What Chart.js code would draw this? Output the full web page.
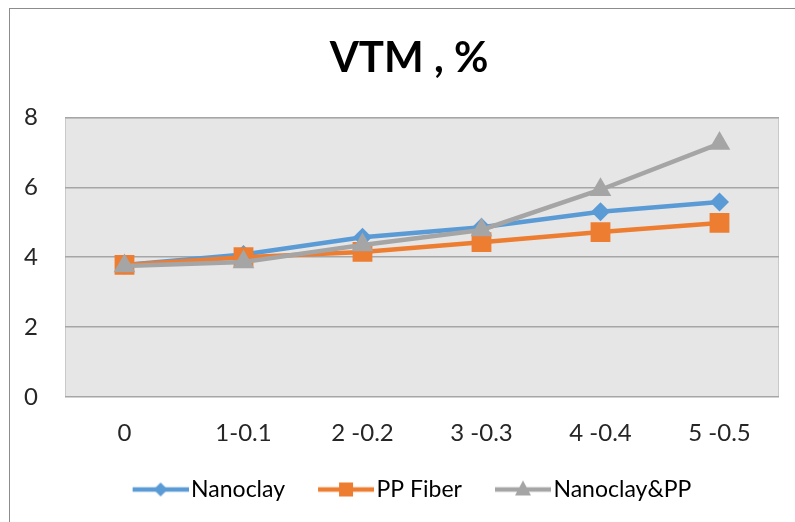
<!DOCTYPE html>
<html>
<head>
<meta charset="utf-8">
<title>VTM , %</title>
<script src="https://cdn.jsdelivr.net/npm/chart.js@4.4.1/dist/chart.umd.min.js"></script>
<style>
  html, body { margin: 0; padding: 0; background: #fff; }
  #wrap { position: relative; width: 795px; height: 522px; overflow: hidden; }
  #frame { position: absolute; left: 9px; top: 8px; width: 800px; height: 530px; border-left: 1px solid #8c8c8c; border-top: 1px solid #8c8c8c; }
  #vtm-chart { position: absolute; left: 0; top: 0; }
</style>
</head>
<body>
<div id="wrap">
  <div id="frame"></div>
  <canvas id="vtm-chart" width="795" height="522"></canvas>
</div>
<script>
// values
const categories = ["0", "1-0.1", "2 -0.2", "3 -0.3", "4 -0.4", "5 -0.5"];
const nanoclay = [3.78, 4.08, 4.57, 4.86, 5.30, 5.58];
const ppFiber = [3.78, 4.00, 4.15, 4.43, 4.72, 4.98];
const nanoclayPP = [3.75, 3.86, 4.35, 4.78, 5.93, 7.25];
const yTicks = [0, 2, 4, 6, 8];

const BLUE = "#5b9bd5";
const ORANGE = "#ed7d31";
const GRAY = "#a5a5a5";
const FONT = "Lato, 'Liberation Sans', sans-serif";

// line + marker picture for the legend, like the Excel one
// (left part of the canvas is empty so the text sits right after the line)
function legendIcon(color, shape) {
    let c = document.createElement("canvas");
    c.width = 88;
    c.height = 24;
    let ctx = c.getContext("2d");
    ctx.strokeStyle = color;
    ctx.fillStyle = color;
    ctx.lineWidth = 4.5;
    ctx.beginPath();
    ctx.moveTo(32, 12);
    ctx.lineTo(88, 12);
    ctx.stroke();
    ctx.beginPath();
    if (shape == "diamond") {
        ctx.moveTo(60, 5); ctx.lineTo(67, 12); ctx.lineTo(60, 19); ctx.lineTo(53, 12);
    } else if (shape == "square") {
        ctx.rect(53, 5, 14, 14);
    } else {
        ctx.moveTo(60, 3); ctx.lineTo(68, 18); ctx.lineTo(52, 18);
    }
    ctx.closePath();
    ctx.fill();
    return c;
}

const icons = [legendIcon(BLUE, "diamond"), legendIcon(ORANGE, "square"), legendIcon(GRAY, "triangle")];

// grey plot area like the Excel chart
const plotArea = {
    id: "plotArea",
    beforeDraw(chart) {
        let { ctx, chartArea } = chart;
        ctx.save();
        ctx.fillStyle = "#e6e6e6";
        ctx.fillRect(chartArea.left, chartArea.top, chartArea.width, chartArea.height);
        ctx.strokeStyle = "#c9c9c9";
        ctx.lineWidth = 1;
        ctx.strokeRect(chartArea.left + 0.5, chartArea.top + 0.5, chartArea.width - 1, chartArea.height - 1);
        ctx.restore();
    },
};

// title and legend sit a bit right of the canvas centre in the reference
const nudge = {
    id: "nudge",
    afterLayout(chart) {
        chart.titleBlock.left += 29;
        chart.legend.left += 6;
        chart.legend.right += 6;
    },
};

let ctx = document.getElementById("vtm-chart").getContext("2d");
let myChart = new Chart(ctx, {
    type: "line",
    data: {
        labels: categories,
        datasets: [
            {
                label: "Nanoclay",
                data: nanoclay,
                borderColor: BLUE,
                backgroundColor: BLUE,
                borderWidth: 4.5,
                pointStyle: "rectRot",
                pointRadius: 9.5,
                pointBorderWidth: 0,
                order: 2,
            },
            {
                label: "PP Fiber",
                data: ppFiber,
                borderColor: ORANGE,
                backgroundColor: ORANGE,
                borderWidth: 4.5,
                pointStyle: "rect",
                pointRadius: 14,
                pointBorderWidth: 0,
                order: 1,
            },
            {
                label: "Nanoclay&PP",
                data: nanoclayPP,
                borderColor: GRAY,
                backgroundColor: GRAY,
                borderWidth: 4.5,
                pointStyle: "triangle",
                pointRadius: 12.5,
                pointBorderWidth: 0,
                order: 0,
            },
        ],
    },
    options: {
        responsive: false,
        animation: false,
        layout: {
            padding: { left: 10, right: 16, top: 0, bottom: 11 },
        },
        plugins: {
            title: {
                display: true,
                text: "VTM , %",
                color: "#000",
                font: { family: FONT, size: 42, weight: "bold" },
                padding: { top: 33, bottom: 34 },
            },
            legend: {
                position: "bottom",
                labels: {
                    usePointStyle: true,
                    pointStyleWidth: 70,
                    padding: 10,
                    color: "#262626",
                    font: { family: FONT, size: 23 },
                    generateLabels: (chart) =>
                        chart.data.datasets.map((ds, i) => ({
                            text: ds.label,
                            fillStyle: ds.borderColor,
                            strokeStyle: ds.borderColor,
                            lineWidth: 0,
                            pointStyle: icons[i],
                            datasetIndex: i,
                            hidden: false,
                        })),
                },
            },
            tooltip: { enabled: false },
        },
        scales: {
            x: {
                offset: true,
                grid: { display: false },
                border: { display: false },
                ticks: {
                    color: "#262626",
                    padding: 14,
                    maxRotation: 0,
                    font: { family: FONT, size: 24 },
                },
                afterFit: (scale) => { scale.height = 71; },
            },
            y: {
                min: 0,
                max: 8,
                afterBuildTicks: (scale) => { scale.ticks = yTicks.map((v) => ({ value: v })); },
                grid: { color: "#a6a6a6", lineWidth: 1.5, drawTicks: false },
                border: { display: false },
                ticks: {
                    color: "#262626",
                    padding: 27,
                    font: { family: FONT, size: 24 },
                },
                afterFit: (scale) => { scale.width = 55; },
            },
        },
    },
    plugins: [plotArea, nudge],
});
</script>
</body>
</html>
